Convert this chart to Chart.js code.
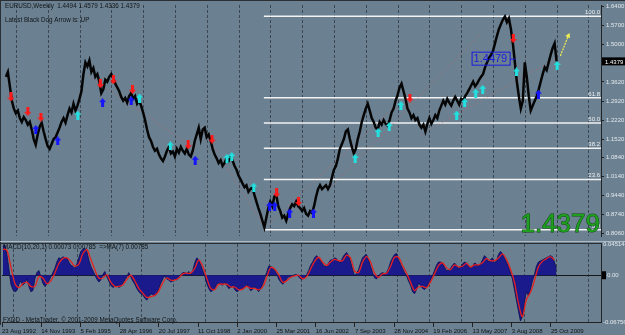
<!DOCTYPE html>
<html>
<head>
<meta charset="utf-8">
<script src="https://cdn.jsdelivr.net/npm/chart.js@4/dist/chart.umd.min.js"></script>
<style>
  html, body { margin: 0; padding: 0; background: #6b8191; }
  #wrap { position: relative; width: 625px; height: 335px; background: #6b8191; overflow: hidden; }
  canvas { position: absolute; left: 0; }
  #price { top: 0; }
  #macd { top: 241px; }
  .line { position: absolute; }
</style>
</head>
<body>
<div id="wrap">
  <canvas id="price" width="625" height="241"></canvas>
  <canvas id="macd" width="625" height="94"></canvas>
  <div class="line" style="left:0;top:0;width:625px;height:1px;background:#2a2f33"></div>
  <div class="line" style="left:0;top:0;width:1px;height:325px;background:#2a2f33"></div>
  <div class="line" style="left:0;top:241px;width:625px;height:1px;background:#aeb8c0"></div>
  <div class="line" style="left:0;top:243px;width:602px;height:1px;background:#2a2f33"></div>
</div>
<script>
// EURUSD weekly, 23 Aug 1992 - Dec 2009 (x axis is in fractional years)

// close readings, one every 1/16 year
const priceStart = 1992.67;
const priceClose = [
  1.381, 1.399, 1.346, 1.293, 1.264, 1.247, 1.257, 1.229, 1.215, 1.233,
  1.222, 1.205, 1.215, 1.187, 1.152, 1.131, 1.169, 1.198, 1.212, 1.180,
  1.152, 1.127, 1.116, 1.134, 1.152, 1.159, 1.176, 1.194, 1.215, 1.229,
  1.212, 1.240, 1.264, 1.250, 1.282, 1.257, 1.275, 1.300, 1.328, 1.391,
  1.434, 1.420, 1.441, 1.399, 1.413, 1.381, 1.391, 1.363, 1.321, 1.335,
  1.370, 1.363, 1.381, 1.391, 1.377, 1.356, 1.342, 1.328, 1.307, 1.293,
  1.303, 1.286, 1.310, 1.321, 1.300, 1.310, 1.282, 1.293, 1.275, 1.250,
  1.222, 1.187, 1.159, 1.145, 1.123, 1.109, 1.116, 1.095, 1.081, 1.071,
  1.088, 1.109, 1.123, 1.099, 1.106, 1.088, 1.116, 1.102, 1.123, 1.109,
  1.099, 1.116, 1.095, 1.088, 1.109, 1.145, 1.169, 1.194, 1.152, 1.187,
  1.194, 1.159, 1.169, 1.145, 1.116, 1.095, 1.081, 1.064, 1.074, 1.053,
  1.064, 1.081, 1.071, 1.088, 1.074, 1.053, 1.039, 1.018, 1.004, 0.989,
  0.975, 0.982, 0.958, 0.968, 0.975, 0.947, 0.922, 0.898, 0.877, 0.852,
  0.827, 0.863, 0.898, 0.922, 0.905, 0.940, 0.947, 0.905, 0.887, 0.863,
  0.870, 0.852, 0.877, 0.898, 0.912, 0.905, 0.922, 0.905, 0.898, 0.887,
  0.898, 0.877, 0.870, 0.887, 0.880, 0.905, 0.940, 0.968, 0.982, 0.968,
  0.975, 0.982, 0.968, 0.982, 1.011, 1.039, 1.053, 1.081, 1.116, 1.134,
  1.152, 1.180, 1.187, 1.152, 1.123, 1.099, 1.116, 1.152, 1.180, 1.215,
  1.240, 1.264, 1.282, 1.257, 1.229, 1.215, 1.194, 1.187, 1.215, 1.205,
  1.222, 1.208, 1.201, 1.222, 1.250, 1.264, 1.293, 1.314, 1.342, 1.356,
  1.328, 1.300, 1.264, 1.250, 1.229, 1.240, 1.222, 1.229, 1.205, 1.194,
  1.205, 1.180, 1.208, 1.229, 1.208, 1.222, 1.240, 1.229, 1.257, 1.275,
  1.293, 1.279, 1.300, 1.286, 1.275, 1.293, 1.307, 1.293, 1.279, 1.300,
  1.293, 1.310, 1.321, 1.335, 1.349, 1.363, 1.346, 1.356, 1.370, 1.381,
  1.391, 1.416, 1.434, 1.451, 1.462, 1.476, 1.504, 1.532, 1.557, 1.575,
  1.592, 1.603, 1.582, 1.596, 1.557, 1.504, 1.434, 1.363, 1.310, 1.264,
  1.293, 1.434, 1.381, 1.310, 1.257, 1.275, 1.293, 1.310, 1.335, 1.363,
  1.391, 1.416, 1.405, 1.434, 1.462, 1.487, 1.504, 1.4379
];

// MACD main line, same spacing as the closes
const macdMain = [
  0.0420, 0.0440, 0.0298, 0.0099, -0.0130, -0.0207, -0.0237, -0.0222, -0.0130, -0.0084,
  -0.0145, -0.0115, -0.0054, -0.0161, -0.0237, -0.0222, -0.0054, 0.0038, 0.0069, -0.0023,
  -0.0115, -0.0161, -0.0130, -0.0084, -0.0023, 0.0038, 0.0099, 0.0191, 0.0252, 0.0237,
  0.0268, 0.0252, 0.0252, 0.0191, 0.0145, 0.0130, 0.0099, 0.0161, 0.0252, 0.0344,
  0.0375, 0.0390, 0.0344, 0.0222, 0.0130, 0.0069, 0.0008, -0.0054, -0.0099, -0.0069,
  0.0008, 0.0054, -0.0023, -0.0084, -0.0145, -0.0176, -0.0161, -0.0145, -0.0176, -0.0161,
  -0.0115, -0.0069, -0.0023, 0.0038, -0.0023, -0.0084, -0.0130, -0.0191, -0.0237, -0.0268,
  -0.0283, -0.0329, -0.0360, -0.0314, -0.0268, -0.0283, -0.0298, -0.0268, -0.0191, -0.0115,
  -0.0054, -0.0008, -0.0054, -0.0069, -0.0099, -0.0084, -0.0054, -0.0069, -0.0023, 0.0008,
  0.0038, 0.0038, 0.0023, 0.0054, 0.0008, 0.0069, 0.0176, 0.0252, 0.0222, 0.0145,
  0.0069, -0.0008, -0.0115, -0.0191, -0.0237, -0.0222, -0.0191, -0.0130, -0.0115, -0.0130,
  -0.0145, -0.0099, -0.0145, -0.0191, -0.0176, -0.0145, -0.0207, -0.0237, -0.0222, -0.0191,
  -0.0207, -0.0176, -0.0130, -0.0176, -0.0222, -0.0207, -0.0161, -0.0207, -0.0237, -0.0191,
  -0.0130, -0.0038, 0.0038, 0.0130, 0.0130, 0.0099, 0.0069, 0.0023, -0.0054, -0.0099,
  -0.0130, -0.0099, -0.0054, -0.0023, -0.0023, -0.0008, 0.0008, 0.0008, -0.0023, -0.0054,
  -0.0054, -0.0038, 0.0008, 0.0069, 0.0145, 0.0191, 0.0252, 0.0283, 0.0252, 0.0207,
  0.0161, 0.0130, 0.0130, 0.0176, 0.0222, 0.0222, 0.0252, 0.0237, 0.0191, 0.0191,
  0.0252, 0.0298, 0.0329, 0.0283, 0.0191, 0.0084, -0.0008, 0.0023, 0.0084, 0.0176,
  0.0252, 0.0283, 0.0298, 0.0222, 0.0130, 0.0038, -0.0038, -0.0054, -0.0008, 0.0023,
  0.0038, 0.0023, 0.0038, 0.0099, 0.0191, 0.0252, 0.0298, 0.0314, 0.0222, 0.0161,
  0.0099, 0.0038, -0.0008, -0.0084, -0.0145, -0.0237, -0.0268, -0.0207, -0.0115, -0.0145,
  -0.0191, -0.0207, -0.0176, -0.0115, -0.0069, -0.0008, 0.0069, 0.0145, 0.0191, 0.0191,
  0.0176, 0.0115, 0.0069, 0.0069, 0.0099, 0.0145, 0.0176, 0.0145, 0.0099, 0.0115,
  0.0161, 0.0191, 0.0176, 0.0130, 0.0099, 0.0130, 0.0176, 0.0161, 0.0130, 0.0161,
  0.0222, 0.0283, 0.0252, 0.0191, 0.0222, 0.0252, 0.0176, 0.0207, 0.0298, 0.0344,
  0.0314, 0.0252, 0.0191, 0.0130, 0.0038, -0.0054, -0.0207, -0.0360, -0.0513, -0.0660,
  -0.0600, -0.0390, -0.0237, -0.0298, -0.0207, -0.0084, 0.0008, 0.0130, 0.0191, 0.0207,
  0.0222, 0.0237, 0.0252, 0.0268, 0.0283, 0.0268, 0.0191, 0.0099
];

// signal MA(7), one reading every 1/8 year
const signalStart = 1992.67;
const macdSignal = [
  0.038, 0.036, 0.012, -0.012, -0.018, -0.012, -0.010, -0.016, -0.016, -0.002,
  -0.004, -0.012, -0.008, 0.003, 0.017, 0.024, 0.025, 0.020, 0.013, 0.016,
  0.031, 0.037, 0.023, 0.008, -0.004, -0.004, 0.001, -0.010, -0.016, -0.016,
  -0.014, -0.006, 0.000, -0.008, -0.019, -0.026, -0.032, -0.031, -0.029, -0.023,
  -0.011, -0.004, -0.007, -0.007, -0.004, 0.002, 0.003, 0.003, 0.010, 0.022,
  0.013, -0.004, -0.019, -0.021, -0.013, -0.013, -0.013, -0.017, -0.017, -0.021,
  -0.020, -0.016, -0.019, -0.019, -0.021, -0.017, -0.003, 0.011, 0.009, 0.001,
  -0.010, -0.008, -0.003, -0.001, 0.000, -0.005, -0.002, 0.009, 0.020, 0.026,
  0.019, 0.014, 0.019, 0.023, 0.021, 0.021, 0.029, 0.025, 0.006, 0.004,
  0.019, 0.027, 0.019, 0.003, -0.003, 0.002, 0.003, 0.013, 0.026, 0.026,
  0.014, 0.003, -0.010, -0.022, -0.017, -0.016, -0.018, -0.010, 0.002, 0.014,
  0.018, 0.011, 0.008, 0.015, 0.012, 0.013, 0.017, 0.012, 0.015, 0.015,
  0.018, 0.024, 0.021, 0.021, 0.025, 0.031, 0.023, 0.009, -0.010, -0.040,
  -0.060, -0.035, -0.025, -0.008, 0.012, 0.020, 0.024, 0.027, 0.022
];

// Black Dog arrows [year, price]
const sellArrows = [
  [1992.83, 1.307], [1993.36, 1.254], [1993.77, 1.233], [1995.64, 1.356],
  [1996.05, 1.370], [1996.65, 1.335], [1998.40, 1.131], [1999.15, 1.152],
  [2001.18, 0.954], [2001.87, 0.922], [2005.37, 1.303], [2008.62, 1.522]
];
const buyArrows = [
  [1993.61, 1.187], [1994.30, 1.145], [1995.71, 1.286], [1996.61, 1.293],
  [1998.62, 1.074], [2000.96, 0.905], [2001.12, 0.905], [2001.59, 0.880],
  [2002.34, 0.880], [2009.41, 1.317]
];
const swingMarks = [
  [1994.93, 1.240], [1996.87, 1.303], [1997.84, 1.127], [1999.62, 1.081],
  [1999.77, 1.088], [2000.46, 0.975], [2003.65, 1.081], [2004.37, 1.176],
  [2004.72, 1.198], [2005.09, 1.275], [2006.84, 1.240], [2007.09, 1.286],
  [2007.44, 1.321], [2007.66, 1.335], [2008.72, 1.399], [2010.00, 1.423]
];

// dotted trend lines
const trendLines = [
  [[1995.30, 1.381], [1998.62, 1.116]],
  [[1998.83, 1.194], [2000.81, 0.827]],
  [[2000.81, 0.827], [2005.09, 1.293]],
  [[2002.90, 0.975], [2007.59, 1.540]],
  [[2005.72, 1.169], [2010.00, 1.451]]
];
const projection = [[2010.10, 1.458], [2010.35, 1.532]];

// fibonacci retracement, Oct 2000 low to Jul 2008 high
const fibStart = 2000.78;
const fibLow = 0.8180;
const fibHigh = 1.6038;
const fibLevels = [0, 23.6, 38.2, 50.0, 61.8, 100.0];

const lastBar = { open: 1.4494, high: 1.4579, low: 1.4336, close: 1.4379 };
const priceTag = { x: 2007.31, y: 1.4479 };

// axes
const xMin = 1992.642;
const xMax = 2011.378;
const gridYears = [1993, 1994, 1995, 1996, 1997, 1998, 1999, 2000, 2001, 2002,
  2003, 2004, 2005, 2006, 2007, 2008, 2009, 2010, 2011];
const dateLabels = ['23 Aug 1992', '14 Nov 1993', '5 Feb 1995', '28 Apr 1996',
  '20 Jul 1997', '11 Oct 1998', '2 Jan 2000', '25 Mar 2001', '16 Jun 2002',
  '7 Sep 2003', '28 Nov 2004', '19 Feb 2006', '13 May 2007', '3 Aug 2008', '25 Oct 2009'];
const priceTicks = [1.6400, 1.5700, 1.5000, 1.3620, 1.2920, 1.2220, 1.1520,
  1.0840, 1.0140, 0.9440, 0.8740, 0.8060];
const macdTicks = [0.04514, 0, -0.06756];

const gridColor = '#3a4752';
const labelColor = '#e4e8ec';
Chart.defaults.font.family = '"Liberation Sans", Arial, sans-serif';
Chart.defaults.font.size = 6;

const dateTicks = dateLabels.map((_, i) => xMin + i * 64 * 7 / 365.25);

// small arrow glyphs for the signals
const makeArrow = (color, up) => {
    const c = document.createElement('canvas');
    c.width = 7; c.height = 9;
    const g = c.getContext('2d');
    g.fillStyle = color;
    g.beginPath();
    if (up) {
        g.moveTo(3.5, 0); g.lineTo(7, 4); g.lineTo(5, 4); g.lineTo(5, 9);
        g.lineTo(2, 9); g.lineTo(2, 4); g.lineTo(0, 4);
    } else {
        g.moveTo(3.5, 9); g.lineTo(7, 5); g.lineTo(5, 5); g.lineTo(5, 0);
        g.lineTo(2, 0); g.lineTo(2, 5); g.lineTo(0, 5);
    }
    g.closePath();
    g.fill();
    return c;
};

const toPoints = (arr) => arr.map(([x, y]) => ({ x, y }));
const series = (vals, start, step) => vals.map((v, i) => ({ x: start + i * step, y: v }));

const yearGrid = {
    type: 'linear', min: xMin, max: xMax,
    ticks: { display: false },
    grid: { color: gridColor, lineWidth: 1, drawTicks: false },
    border: { display: false, dash: [3, 2] },
    afterBuildTicks: (s) => { s.ticks = gridYears.map(v => ({ value: v })); },
    afterFit: (s) => { s.height = 0; s.paddingLeft = 0; s.paddingRight = 0; }
};

// ---------- price window ----------
const fibDatasets = fibLevels.map(l => {
    const p = fibLow + (fibHigh - fibLow) * l / 100;
    return {
        type: 'line',
        data: [{ x: fibStart, y: p }, { x: xMax, y: p }],
        borderColor: '#f2f2f2', borderWidth: 1.5,
        pointRadius: 0, order: 6
    };
});
const trendDatasets = trendLines.map(seg => ({
    type: 'line',
    data: toPoints(seg),
    borderColor: 'rgba(205, 95, 95, 0.75)', borderWidth: 1, borderDash: [1, 3],
    pointRadius: 0, order: 5
}));

const priceOverlay = {
    id: 'priceOverlay',
    afterDraw(chart) {
        const { ctx, scales: { y } } = chart;
        ctx.save();
        // fib level labels
        ctx.font = '6px "Liberation Sans"';
        ctx.fillStyle = '#eef0f2';
        ctx.textAlign = 'right';
        ctx.textBaseline = 'bottom';
        fibLevels.forEach(l => {
            const py = y.getPixelForValue(fibLow + (fibHigh - fibLow) * l / 100);
            ctx.fillText(l.toFixed(1), 600, py - 1);
        });

        // header text
        ctx.textAlign = 'left';
        ctx.textBaseline = 'middle';
        ctx.fillStyle = '#101418';
        ctx.font = '6.3px "Liberation Sans"';
        ctx.fillText('EURUSD,Weekly  ' + [lastBar.open, lastBar.high, lastBar.low, lastBar.close]
            .map(v => v.toFixed(4)).join(' '), 5, 6);
        ctx.fillText('Latest Black Dog Arrow is: UP', 5, 20);

        // blue price label
        const tx = chart.scales.x.getPixelForValue(priceTag.x);
        const ty = y.getPixelForValue(priceTag.y);
        ctx.strokeStyle = '#1a1ae0';
        ctx.lineWidth = 1;
        ctx.strokeRect(tx + 0.5, ty - 6.5, 38, 13);
        ctx.beginPath();
        ctx.moveTo(tx + 38.5, ty + 0.5);
        ctx.lineTo(tx + 44, ty + 0.5);
        ctx.stroke();
        ctx.fillStyle = '#1a1ae0';
        ctx.font = '11px "Liberation Sans"';
        ctx.fillText(priceTag.y.toFixed(4), tx + 2, ty + 0.5);

        // big close quote
        ctx.textAlign = 'right';
        ctx.textBaseline = 'alphabetic';
        ctx.font = '26px "Liberation Sans"';
        ctx.lineWidth = 1;
        ctx.strokeStyle = '#0b4d0b';
        ctx.strokeText(lastBar.close.toFixed(4), 600, 232);
        ctx.fillStyle = '#1ea01e';
        ctx.fillText(lastBar.close.toFixed(4), 600, 232);

        // current price box on the axis
        const cy = y.getPixelForValue(lastBar.close);
        ctx.fillStyle = '#000';
        ctx.fillRect(602, cy - 4, 23, 8);
        ctx.fillStyle = '#fff';
        ctx.font = '6px "Liberation Sans"';
        ctx.textAlign = 'left';
        ctx.textBaseline = 'middle';
        ctx.fillText(lastBar.close.toFixed(4), 605, cy + 0.5);
        ctx.restore();
    }
};

new Chart(document.getElementById('price').getContext('2d'), {
    type: 'line',
    data: {
        datasets: [
            {
                label: 'EURUSD',
                data: series(priceClose, priceStart, 1 / 16),
                borderColor: '#050505', borderWidth: 2.5,
                borderJoinStyle: 'miter',
                pointRadius: 0, tension: 0, order: 2
            },
            {
                label: 'sell',
                type: 'scatter',
                data: toPoints(sellArrows),
                pointStyle: makeArrow('#ff1a1a', false), order: 0
            },
            {
                label: 'buy',
                type: 'scatter',
                data: toPoints(buyArrows),
                pointStyle: makeArrow('#1414ff', true), order: 0
            },
            {
                label: 'swing',
                type: 'scatter',
                data: toPoints(swingMarks),
                pointStyle: makeArrow('#22e0e0', true), order: 1
            },
            {
                label: 'projection',
                type: 'line',
                data: toPoints(projection),
                borderColor: '#f0f050', borderWidth: 1.2, borderDash: [2, 1],
                pointRadius: [0, 3], pointStyle: 'triangle', pointRotation: 25,
                pointBackgroundColor: '#f0f050', pointBorderWidth: 0, order: 1
            },
            ...fibDatasets,
            ...trendDatasets
        ]
    },
    options: {
        responsive: false,
        maintainAspectRatio: false,
        animation: false,
        devicePixelRatio: 1,
        layout: { padding: { left: 2, right: 0, top: 0, bottom: 0 } },
        plugins: { legend: { display: false }, tooltip: { enabled: false } },
        scales: {
            x: yearGrid,
            y: {
                position: 'right',
                min: 0.7954, max: 1.6453,
                afterBuildTicks: (s) => { s.ticks = priceTicks.map(v => ({ value: v })); },
                afterFit: (s) => { s.width = 24; s.paddingTop = 0; s.paddingBottom = 0; },
                ticks: { color: labelColor, padding: 2, callback: (v) => v.toFixed(4) },
                grid: { drawOnChartArea: false, drawTicks: true, tickLength: 3, color: '#222' },
                border: { color: '#222', width: 1 }
            }
        }
    },
    plugins: [priceOverlay]
});

// ---------- MACD window ----------
const macdOverlay = {
    id: 'macdOverlay',
    afterDraw(chart) {
        const { ctx, scales: { y } } = chart;
        ctx.save();
        ctx.font = '6.3px "Liberation Sans"';
        ctx.fillStyle = '#101418';
        ctx.textAlign = 'left';
        ctx.textBaseline = 'middle';
        ctx.fillText('MACD(10,20,1) 0.00073 0.00785  =>MA(7) 0.00785', 3, 6);
        ctx.fillText('FXDD - MetaTrader, \u00a9 2001-2009 MetaQuotes Software Corp.', 3, 79);

        // zero level box on the axis
        const zy = y.getPixelForValue(0);
        ctx.fillStyle = '#000';
        ctx.fillRect(602, zy - 4, 4, 8);
        ctx.fillStyle = labelColor;
        ctx.font = '6px "Liberation Sans"';
        ctx.fillText('0.00', 607, zy + 0.5);
        ctx.restore();
    }
};

new Chart(document.getElementById('macd').getContext('2d'), {
    type: 'line',
    data: {
        datasets: [
            {
                label: 'MACD',
                data: series(macdMain, priceStart, 1 / 16),
                borderColor: '#0a0a50', borderWidth: 0.8,
                backgroundColor: '#1a1a8c', fill: 'origin',
                pointRadius: 0, tension: 0, order: 2
            },
            {
                label: 'Signal',
                data: series(macdSignal, signalStart, 1 / 8),
                borderColor: '#e82020', borderWidth: 1.3,
                pointRadius: 0, tension: 0.3, fill: false, order: 1
            }
        ]
    },
    options: {
        responsive: false,
        maintainAspectRatio: false,
        animation: false,
        devicePixelRatio: 1,
        layout: { padding: { left: 2, right: 0, top: 3, bottom: 0 } },
        plugins: { legend: { display: false }, tooltip: { enabled: false } },
        scales: {
            x: {
                type: 'linear', position: 'bottom',
                min: xMin, max: xMax,
                afterBuildTicks: (s) => { s.ticks = dateTicks.map(v => ({ value: v })); },
                afterFit: (s) => { s.height = 13; s.paddingLeft = 0; s.paddingRight = 0; },
                ticks: {
                    color: '#101418', align: 'start', autoSkip: false, maxRotation: 0,
                    padding: 1, callback: (v, i) => dateLabels[i]
                },
                grid: { drawOnChartArea: false, drawTicks: true, tickLength: 5, color: '#222' },
                border: { color: '#222', width: 1 }
            },
            xg: Object.assign({}, yearGrid, { position: 'top' }),
            y: {
                position: 'right',
                min: -0.06756, max: 0.04514,
                afterBuildTicks: (s) => { s.ticks = macdTicks.map(v => ({ value: v })); },
                afterFit: (s) => { s.width = 24; s.paddingTop = 0; s.paddingBottom = 0; },
                ticks: {
                    color: labelColor, padding: 2,
                    callback: (v) => (v === 0 ? '' : v.toFixed(5))
                },
                grid: {
                    drawTicks: false,
                    color: (c) => (c.tick && c.tick.value === 0 ? '#15181b' : 'rgba(0,0,0,0)')
                },
                border: { color: '#222', width: 1 }
            }
        }
    },
    plugins: [macdOverlay]
});
</script>
</body>
</html>
